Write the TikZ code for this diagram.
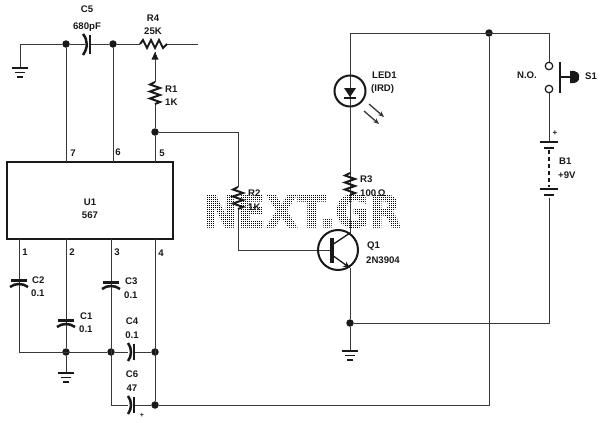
\documentclass[tikz,border=0pt]{standalone}
\usepackage{fontspec}
\setmainfont{Liberation Sans}
\newfontfamily\wmfont[BoldFeatures={FakeBold=2.2}]{DejaVu Sans}
\usetikzlibrary{arrows.meta}
\definecolor{ink}{gray}{0.1}
\definecolor{wireink}{gray}{0.22}
\tikzset{
  x=1pt,y=-1pt,
  wire/.style={draw=wireink,line width=1pt},
  hvy/.style={draw=ink,line width=2.5pt},
  zig/.style={draw=ink,line width=2pt,line join=miter},
  junction/.style={circle,fill=ink,inner sep=0pt,minimum size=7.5pt},
  lbl/.style={font=\fontsize{9.6}{11}\bfseries\selectfont,text=ink,inner sep=0pt,align=center},
  contact/.style={circle,draw=ink,line width=1.2pt,fill=white,inner sep=0pt,minimum size=7.5pt},
  icbox/.style={rectangle,draw=ink,line width=1.9pt,minimum width=166pt,minimum height=77pt,inner sep=0pt},
}
\newcommand{\vres}[2]{%
  \draw[zig] (#1,#2) -- ++(-5,2.5) -- ++(10,3.5) -- ++(-10,3.5) -- ++(10,3.5) -- ++(-10,3.5) -- ++(10,3.5) -- ++(-5,2);}
\newcommand{\gnd}[2]{%
  \draw[draw=ink,line width=1.7pt] (#1-8,#2) -- (#1+8,#2) (#1-5,#2+4.5) -- (#1+5,#2+4.5) (#1-3,#2+9) -- (#1+3,#2+9);}
\newcommand{\vcap}[2]{%
  \draw[hvy] (#1-8,#2-1.5) -- (#1+8,#2-1.5);
  \draw[hvy] (#1-9,#2+5) .. controls (#1-4,#2+1) and (#1+4,#2+1) .. (#1+9,#2+5);}
\newcommand{\hcap}[2]{%
  \draw[hvy] (#1+2,#2-8) -- (#1+2,#2+8);
  \draw[hvy] (#1-4,#2-9) .. controls (#1,#2-4) and (#1,#2+4) .. (#1-4,#2+9);}
\begin{document}
\begin{tikzpicture}
\useasboundingbox (0,0) rectangle (603,423);
% watermark: real text, screened to dots by a white grid
\node[font=\wmfont\fontsize{44}{44}\bfseries\selectfont,text=black,inner sep=0pt,xscale=0.94] (wmark) at (302,211) {NEXT.GR};
\foreach \gx in {196,198,...,412} {\draw[white,line width=1pt] (\gx+0.5,190) -- (\gx+0.5,234);}
\foreach \gy in {190,192,...,234} {\draw[white,line width=1pt] (194,\gy+0.5) -- (414,\gy+0.5);}
% IC
\node[icbox] (u1) at (90,200.5) {};
\node[lbl] (u1t) at (90,202) {U1};
\node[lbl] (u1n) at (90,215) {567};
% junctions
\node[junction] (j7) at (66,44) {};
\node[junction] (j6) at (113,44) {};
\node[junction] (j5) at (155,132) {};
\node[junction] (jg) at (66,352) {};
\node[junction] (j3) at (111,352) {};
\node[junction] (j4) at (155,352) {};
\node[junction] (j6b) at (155,405) {};
\node[junction] (jq) at (350,323) {};
\node[junction] (jt) at (489,33) {};
% named corners
\coordinate (gl) at (20,44);
\coordinate (gl2) at (20,67);
\coordinate (r4r) at (198,44);
\coordinate (c5l) at (85,44);
\coordinate (c5r) at (90,44);
\coordinate (r4a) at (140,44);
\coordinate (r4b) at (167,44);
\coordinate (w) at (155,52);
\coordinate (r1t) at (155,82);
\coordinate (r1b) at (155,104);
\coordinate (p7) at (66,162);
\coordinate (p6) at (113,162);
\coordinate (p5) at (155,162);
\coordinate (p1) at (19,239);
\coordinate (p2) at (66,239);
\coordinate (p3) at (111,239);
\coordinate (p4) at (155,239);
\coordinate (r2c) at (238,132);
\coordinate (r2t) at (238,187);
\coordinate (r2b) at (238,209);
\coordinate (qbc) at (238,250);
\coordinate (qb) at (332,250);
\coordinate (qc) at (350,233);
\coordinate (qe) at (350,268);
\coordinate (tl) at (350,33);
\coordinate (tr) at (549,33);
\coordinate (br) at (549,323);
\coordinate (bb) at (489,405);
\coordinate (llb) at (19,352);
\coordinate (c6l) at (111,405);
% wires
\draw[wire] (gl2) -- (gl) -- (j7) -- (c5l);
\draw[wire] (c5r) -- (j6) -- (r4a);
\draw[wire] (r4b) -- (r4r);
\draw[wire] (j7) -- (p7);
\draw[wire] (j6) -- (p6);
\draw[wire] (j5) -- (p5);
\draw[wire] (r1t) -- (w);
\draw[wire] (j5) -- (r1b);
\draw[wire] (j5) -- (r2c) -- (r2t);
\draw[wire] (r2b) -- (qbc) -- (qb);
\draw[wire] (p1) -- (llb) -- (j3) -- (128,352);
\draw[wire] (134,352) -- (j4);
\draw[wire] (p2) -- (jg) -- (66,372);
\draw[wire] (p3) -- (c6l) -- (128,405);
\draw[wire] (134,405) -- (j6b);
\draw[wire] (p4) -- (j6b) -- (bb) -- (jt);
\draw[wire] (qc) -- (tl) -- (tr) -- (549,63);
\draw[wire] (qe) -- (jq) -- (350,350);
\draw[wire] (jq) -- (br) -- (549,198);
\draw[wire] (549,93) -- (549,142);
% ground symbols
\gnd{20}{68}
\gnd{66}{373}
\gnd{350}{351}
% C5
\draw[hvy] (90,35) -- (90,54);
\draw[hvy] (83,34) .. controls (88,40) and (88,48) .. (83,55);
% R4
\draw[zig] (140,44) -- (143,40) -- (147,48) -- (151,40) -- (155,48) -- (159,40) -- (163,48) -- (167,44);
\fill[ink] (155,52) -- (151.5,59.5) -- (158.5,59.5) -- cycle;
% R1 R2 R3
\vres{155}{82}
\vres{238}{187}
\vres{350}{173}
% caps
\vcap{19}{282}
\vcap{66}{322}
\vcap{111}{284}
\hcap{132}{352}
\hcap{132}{405}
% LED
\fill[white] (350,91) circle (16);
\draw[wire] (350,75) -- (350,107);
\draw[draw=ink,line width=2pt] (350,91) circle (15.5);
\fill[ink] (344,88) -- (356,88) -- (350,97) -- cycle;
\draw[draw=ink,line width=1.6pt] (344,98) -- (356,98);
\draw[wire,line width=1.3pt,-{Stealth[length=6pt,width=5pt]}] (369,104) -- (384,117);
\draw[wire,line width=1.3pt,-{Stealth[length=6pt,width=5pt]}] (364,111) -- (379,124);
\draw[wire] (350,107) -- (350,173);
\draw[wire] (350,195) -- (350,233);
% transistor
\draw[draw=ink,line width=2pt] (338,250) circle (20);
\draw[draw=ink,line width=4pt] (332,238) -- (332,263);
\draw[draw=ink,line width=1.3pt] (332,245) -- (qc);
\draw[draw=ink,line width=1.3pt,-{Stealth[length=7pt,width=6pt]}] (332,255) -- (qe);
% switch
\node[contact] (sa) at (549,66) {};
\node[contact] (sb) at (549,89) {};
\draw[draw=ink,line width=2.8pt] (560,62) -- (560,93);
\draw[draw=ink,line width=2pt] (560,77) -- (571,77);
\fill[ink] (570,71) .. controls (577,70) and (580,74) .. (579,77) .. controls (580,81) and (576,84) .. (570,83) -- cycle;
% battery
\draw[draw=ink,line width=2.8pt] (540,142) -- (558,142);
\draw[draw=ink,line width=2.8pt] (544,148) -- (554,148);
\draw[draw=ink,line width=2.8pt] (540,189) -- (558,189);
\draw[draw=ink,line width=2.8pt] (544,195) -- (554,195);
\draw[draw=ink,line width=1.9pt,dash pattern=on 4pt off 3pt] (549,150) -- (549,187);
% labels
\node[lbl] (tc5) at (87,9) {C5};
\node[lbl] (tc5v) at (87,27) {680pF};
\node[lbl] (tr4) at (153,18) {R4};
\node[lbl] (tr4v) at (153,31) {25K};
\node[lbl,anchor=west] (tr1) at (165,89) {R1};
\node[lbl,anchor=west] (tr1v) at (165,102) {1K};
\node[lbl] (t7) at (73,153) {7};
\node[lbl] (t6) at (118,152) {6};
\node[lbl] (t5) at (162,153) {5};
\node[lbl] (t1) at (25,252) {1};
\node[lbl] (t2) at (72,252) {2};
\node[lbl] (t3) at (117,252) {3};
\node[lbl] (t4) at (161,253) {4};
\node[lbl,anchor=west] (tc2) at (32,280) {C2};
\node[lbl,anchor=west] (tc2v) at (31,293) {0.1};
\node[lbl,anchor=west] (tc1) at (80,316) {C1};
\node[lbl,anchor=west] (tc1v) at (79,329) {0.1};
\node[lbl,anchor=west] (tc3) at (125,281) {C3};
\node[lbl,anchor=west] (tc3v) at (124,295) {0.1};
\node[lbl] (tc4) at (132,321) {C4};
\node[lbl] (tc4v) at (132,335) {0.1};
\node[lbl] (tc6) at (132,374) {C6};
\node[lbl] (tc6v) at (132,388) {47};
\node[lbl,font=\fontsize{7}{8}\bfseries\selectfont] (tplus) at (142,415) {+};
\node[lbl,anchor=west] (tr2) at (248,193) {R2};
\node[lbl,anchor=west] (tr2v) at (248,207) {1K};
\node[lbl,anchor=west] (tr3) at (360,179) {R3};
\node[lbl,anchor=west] (tr3v) at (360,193) {100\,Ω};
\node[lbl,anchor=west] (tled) at (372,75) {LED1};
\node[lbl,anchor=west] (tledv) at (371,89) {(IRD)};
\node[lbl,anchor=west] (tq) at (367,246) {Q1};
\node[lbl,anchor=west] (tqv) at (366,260) {2N3904};
\node[lbl] (tno) at (527,75) {N.O.};
\node[lbl,anchor=west] (ts) at (585,76) {S1};
\node[lbl,font=\fontsize{8}{9}\bfseries\selectfont] (tbp) at (555,133) {+};
\node[lbl,anchor=west] (tb) at (559,161) {B1};
\node[lbl,anchor=west] (tbv) at (558,175) {+9V};
\end{tikzpicture}
\end{document}
